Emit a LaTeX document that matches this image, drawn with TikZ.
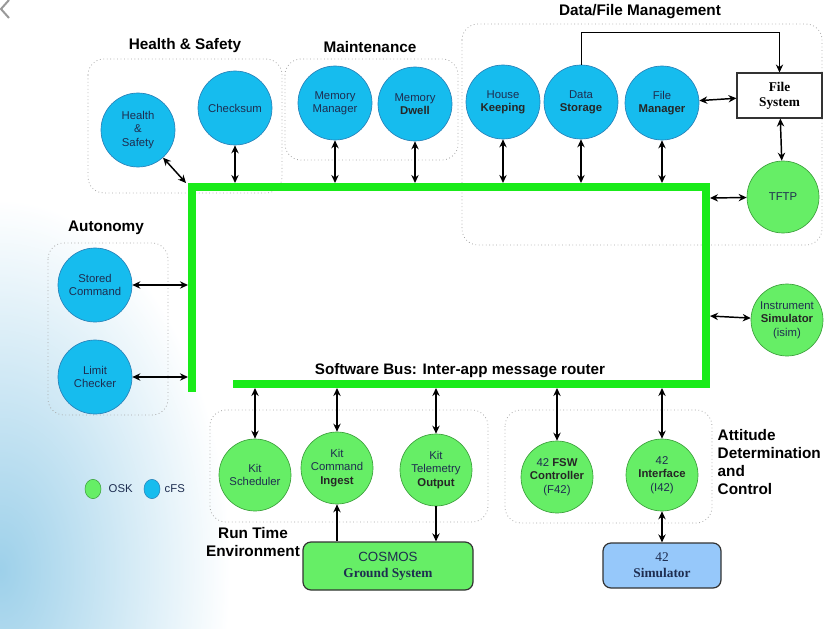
\documentclass[tikz,border=0pt]{standalone}
\usepackage{fontspec}
\setmainfont{Liberation Serif}
\setsansfont{Liberation Sans}
\usetikzlibrary{arrows.meta,fadings,shapes.geometric}
\definecolor{cfs}{RGB}{22,188,238}
\definecolor{cfsline}{RGB}{40,130,185}
\definecolor{osk}{RGB}{102,238,102}
\definecolor{oskline}{RGB}{60,160,60}
\definecolor{busgreen}{RGB}{25,235,25}
\definecolor{navy}{RGB}{30,45,80}
\definecolor{simblue}{RGB}{150,200,250}
\definecolor{bgtex}{RGB}{140,200,230}
\newcommand{\bk}[1]{{\bfseries\color{black!85}#1}}
\tikzfading[name=bgfade, inner color=transparent!15, outer color=transparent!100]
\begin{document}
\begin{tikzpicture}[x=0.75pt,y=-0.75pt,font=\sffamily,
  cfsc/.style={circle,fill=cfs,draw=cfsline,line width=0.5pt,minimum size=55.5pt,inner sep=0pt,align=center,text=navy,font=\sffamily\fontsize{8.5}{10}\selectfont},
  oskc/.style={circle,fill=osk,draw=oskline,line width=0.5pt,minimum size=54pt,inner sep=0pt,align=center,text=navy,font=\sffamily\fontsize{8.5}{10}\selectfont},
  grp/.style={draw=gray!70,dotted,line width=0.6pt,rounded corners=12pt},
  glabel/.style={font=\sffamily\bfseries\fontsize{11.5}{13.5}\selectfont},
  dbl/.style={{Stealth[length=6pt,width=5.5pt]}-{Stealth[length=6pt,width=5.5pt]},line width=1.1pt},
  sgl/.style={-{Stealth[length=6pt,width=5.5pt]},line width=1.1pt},
  thin1/.style={-{Stealth[length=6pt,width=5.5pt]},line width=0.7pt},
  bus/.style={draw=busgreen,line width=6pt,line join=miter},
  fsbox/.style={rectangle,draw=black!80,fill=white,line width=0.8pt,minimum width=63.75pt,minimum height=33.75pt,align=center,font=\rmfamily\bfseries\fontsize{10}{11.5}\selectfont},
  gsbox/.style={rectangle,rounded corners=6pt,draw=black!80,fill=osk,line width=0.9pt,minimum width=127.5pt,minimum height=36pt,align=center,text=navy,font=\sffamily\fontsize{10}{12}\selectfont},
  simbox/.style={rectangle,rounded corners=6pt,draw=black!80,fill=simblue,line width=0.9pt,minimum width=88.5pt,minimum height=33.75pt,align=center,text=navy,font=\rmfamily\fontsize{10}{12}\selectfont},
  legc/.style={ellipse,minimum width=12pt,minimum height=14.5pt,inner sep=0pt,line width=0.4pt},
  legt/.style={anchor=west,font=\sffamily\fontsize{8.5}{10}\selectfont,text=navy}
]
\useasboundingbox (0,0) rectangle (824,628);
% background texture
\fill[bgtex, path fading=bgfade] (-230,200) rectangle (230,940);
% chevron
\draw[gray!80,line width=1.5pt] (9,0) -- (1,9) -- (9,18);

% group boxes
\draw[grp] (88,59) rectangle (282,193);
\draw[grp] (285,59) rectangle (458,160);
\draw[grp] (462,24) rectangle (822,245);
\draw[grp] (48,243) rectangle (168,415);
\draw[grp] (210,410) rectangle (488,522);
\draw[grp] (505,410) rectangle (712,523);

% group labels
\node[glabel] (lhs) at (185,46) {Health \& Safety};
\node[glabel] (lmt) at (370,47) {Maintenance};
\node[glabel] (ldf) at (640,12) {Data/File Management};
\node[glabel] (lau) at (106,228) {Autonomy};
\node[glabel,align=center] (lrt) at (253,542) {Run Time\\Environment};
\node[glabel,align=left,anchor=west] (lad) at (713,462) {Attitude\\Determination\\and\\Control};
\node[font=\sffamily\bfseries\fontsize{11.4}{13}\selectfont] (lbus) at (460,371) {Software Bus: Inter-app message router};

% software bus
\draw[bus] (233,384) -- (706,384) -- (706,187) -- (192,187) -- (192,392);

% nodes
\node[cfsc] (hs) at (138,130) {Health\\\&\\Safety};
\node[cfsc] (ck) at (235,108) {Checksum};
\node[cfsc] (mm) at (335,103) {Memory\\Manager};
\node[cfsc] (md) at (415,104) {Memory\\\bk{Dwell}};
\node[cfsc] (hk) at (503,102) {House\\\bk{Keeping}};
\node[cfsc] (ds) at (581,102) {Data\\\bk{Storage}};
\node[cfsc] (fm) at (662,103) {File\\\bk{Manager}};
\node[fsbox] (fsys) at (779.5,95.5) {File\\System};
\node[oskc] (tftp) at (783,197) {TFTP};
\node[oskc] (isim) at (787,320) {Instrument\\\bk{Simulator}\\(isim)};
\node[cfsc] (sc) at (95,285) {Stored\\Command};
\node[cfsc] (lc) at (95,377) {Limit\\Checker};
\node[oskc] (ks) at (255,475) {Kit\\Scheduler};
\node[oskc] (kci) at (337,468) {Kit\\Command\\\bk{Ingest}};
\node[oskc] (kto) at (436,470) {Kit\\Telemetry\\\bk{Output}};
\node[oskc] (fsw) at (557,477) {42 \bk{FSW}\\\bk{Controller}\\(F42)};
\node[oskc] (i42) at (662,475) {42\\\bk{Interface}\\(I42)};
\node[gsbox] (cosmos) at (388,566) {COSMOS\\{\rmfamily\bfseries Ground System}};
\node[simbox] (sim) at (662,565.5) {42\\\bfseries Simulator};

% bus attachment points
\coordinate (bhs) at (186,183);
\coordinate (bck) at (235,183);
\coordinate (bmm) at (335,183);
\coordinate (bmd) at (415,183);
\coordinate (bhk) at (503,183);
\coordinate (bds) at (581,183);
\coordinate (bfm) at (662,183);
\coordinate (btf) at (710,198);
\coordinate (bis) at (710,316);
\coordinate (bsc) at (188,285);
\coordinate (blc) at (188,377);
\coordinate (bks) at (255,388);
\coordinate (bkci) at (337,388);
\coordinate (bkto) at (436,388);
\coordinate (bfsw) at (557,388);
\coordinate (bi42) at (662,388);
\coordinate (dsup) at (581,32);

% connectors
\draw[dbl] (hs) -- (bhs);
\draw[dbl] (ck) -- (bck);
\draw[dbl] (mm) -- (bmm);
\draw[dbl] (md) -- (bmd);
\draw[dbl] (hk) -- (bhk);
\draw[dbl] (ds) -- (bds);
\draw[dbl] (fm) -- (bfm);
\draw[dbl] (fm) -- (fsys);
\draw[dbl] (fsys) -- (tftp);
\draw[dbl] (btf) -- (tftp);
\draw[dbl] (bis) -- (isim);
\draw[dbl] (sc) -- (bsc);
\draw[dbl] (lc) -- (blc);
\draw[dbl] (bks) -- (ks);
\draw[dbl] (bkci) -- (kci);
\draw[dbl] (bkto) -- (kto);
\draw[dbl] (bfsw) -- (fsw);
\draw[dbl] (bi42) -- (i42);
\draw[dbl] (i42) -- (sim);
\draw[sgl] (kci.south |- cosmos.north) -- (kci.south);
\draw[sgl] (kto.south) -- (kto.south |- cosmos.north);
\draw[thin1] (ds.north) -- (dsup) -| (fsys.north);

% legend
\node[legc,fill=osk,draw=oskline] (lgo) at (93,489) {};
\node[legt] (lgot) at (104,489) {OSK};
\node[legc,fill=cfs,draw=cfsline] (lgc) at (152,489) {};
\node[legt] (lgct) at (160,489) {cFS};
\end{tikzpicture}
\end{document}
